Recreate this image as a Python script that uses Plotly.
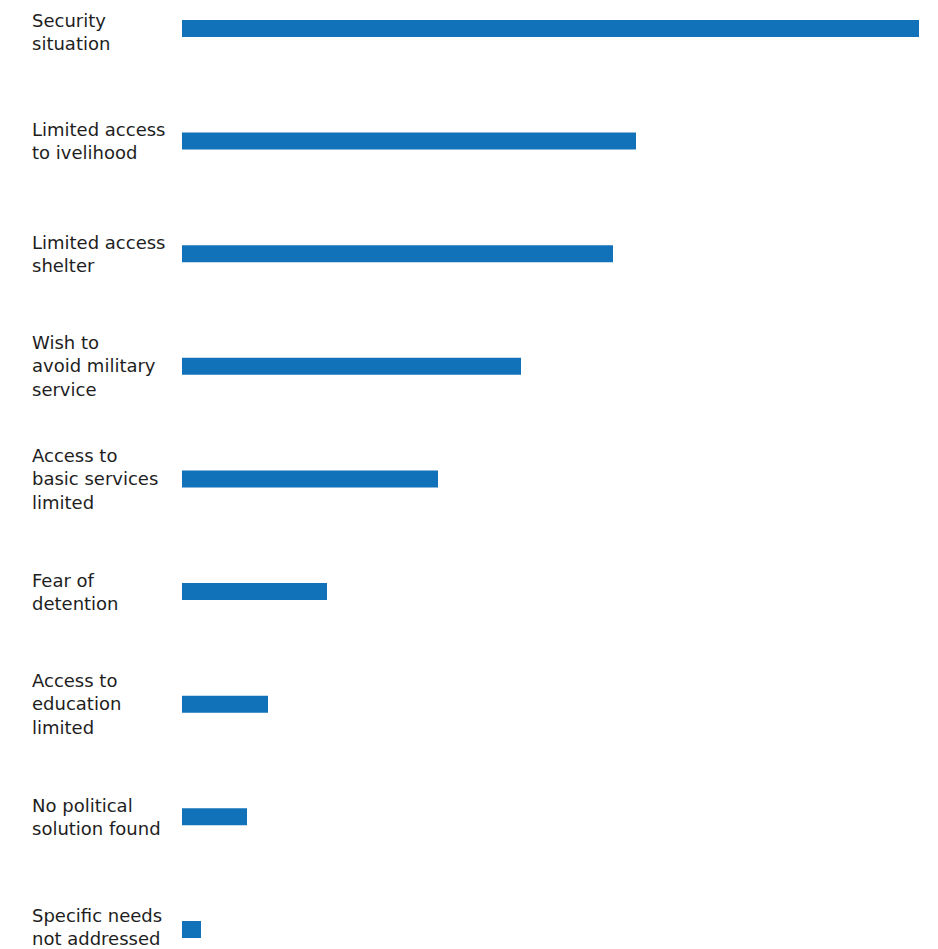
import plotly.graph_objects as go

categories = [
    "Security<br>situation",
    "Limited access<br>to ivelihood",
    "Limited access<br>shelter",
    "Wish to<br>avoid military<br>service",
    "Access to<br>basic services<br>limited",
    "Fear of<br>detention",
    "Access to<br>education<br>limited",
    "No political<br>solution found",
    "Specific needs<br>not addressed",
]
values = [73.7, 45.4, 43.1, 33.9, 25.6, 14.5, 8.6, 6.5, 1.9]

BLUE = "#1172B9"
OFF = 8  # page body margin
W, H = 938 - OFF, 949 - OFF
left, right = 182 - OFF, 919 - OFF
step = 112.625
top_center = 28.5 - OFF
label_x = 31 - OFF

fig = go.Figure()
fig.add_trace(go.Bar(
    x=values, y=list(range(len(categories))), orientation="h",
    marker=dict(color=BLUE, line=dict(width=0)),
    width=17 / step, hoverinfo="skip",
))

n = len(categories)
for i, c in enumerate(categories):
    shift = -3 if i == 0 else (3 if i == n - 1 else 0)
    fig.add_annotation(
        x=(label_x - left) / (right - left), xref="paper", xanchor="left",
        y=i, yref="y", yanchor="middle",
        yshift=shift,
        text=c, align="left", showarrow=False, borderpad=0,
        font=dict(family="DejaVu Sans", size=18, color="#1e1e1e"),
    )

a_top = -top_center / step
a_bot = a_top + H / step
fig.update_layout(
    width=W, height=H,
    margin=dict(l=left, r=W - right, t=0, b=0, pad=0),
    plot_bgcolor="white", paper_bgcolor="white",
    showlegend=False,
    xaxis=dict(range=[0, max(values)], visible=False, showgrid=False, zeroline=False),
    yaxis=dict(range=[a_bot, a_top], visible=False, showgrid=False, zeroline=False),
)
fig.write_html("out.html")
